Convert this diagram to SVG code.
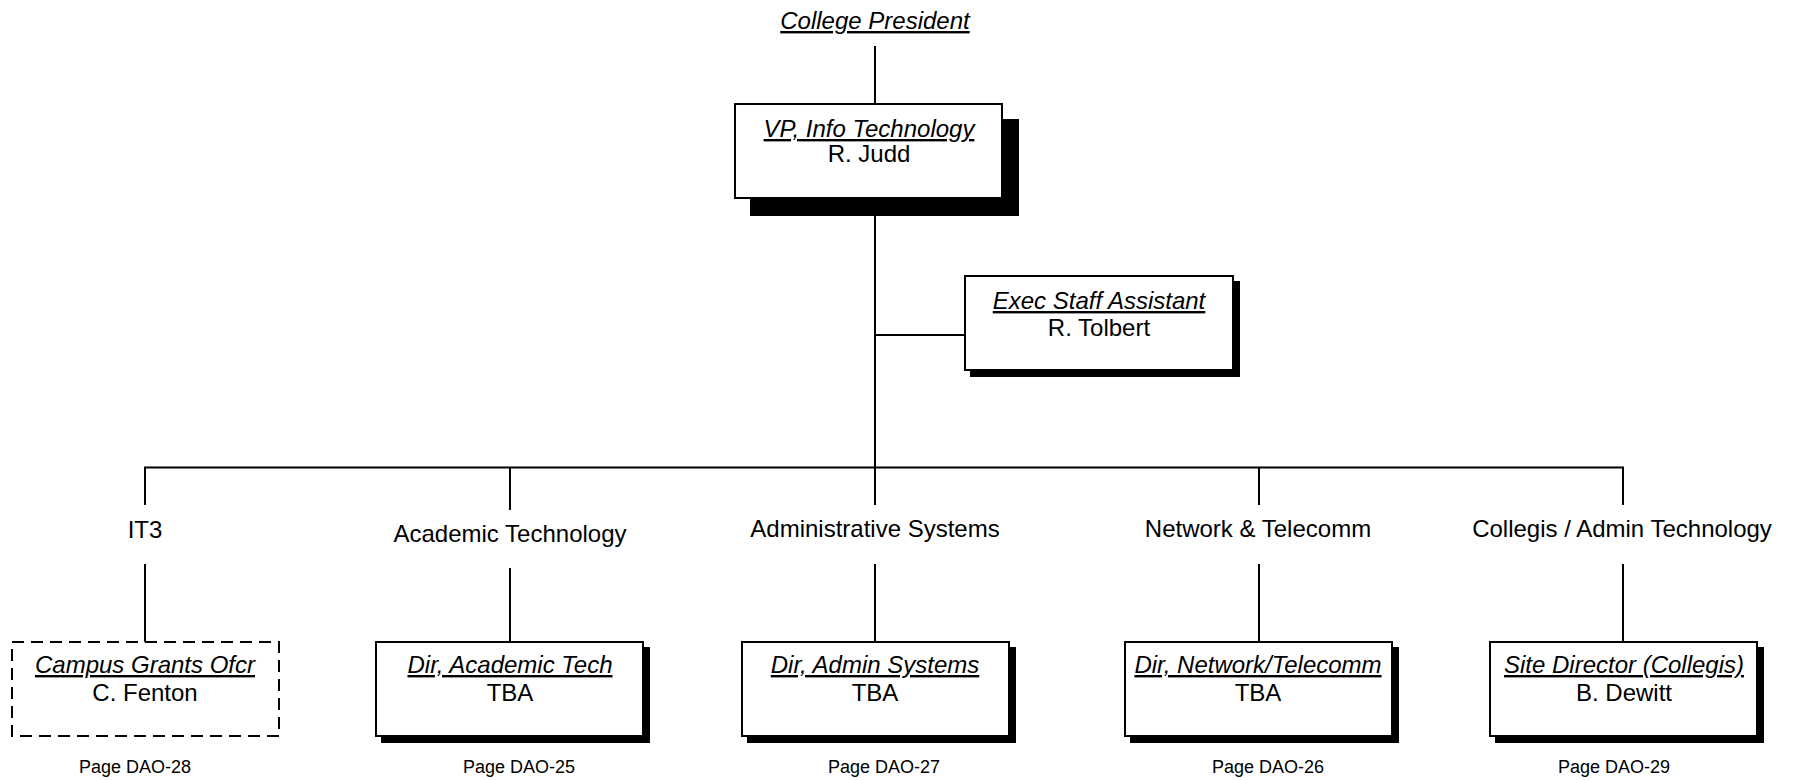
<svg xmlns="http://www.w3.org/2000/svg" width="1800" height="780" viewBox="0 0 1800 780">
<style>
text{font-family:"Liberation Sans",Arial,sans-serif;fill:#000;text-anchor:middle}
.t{font-size:24px;font-style:italic;text-decoration:underline;text-decoration-skip-ink:none}
.n{font-size:24px}
.lbl{font-size:24px}
.pg{font-size:18px}
.box{fill:#fff;stroke:#000;stroke-width:2}
.dash{fill:#fff;stroke:#000;stroke-width:2;stroke-dasharray:12 7}
.sh{fill:#000}
.c{stroke:#000;stroke-width:2;fill:none}
</style>
<rect width="1800" height="780" fill="#fff"/>
<g id="connectors">
<line class="c" x1="875" y1="46" x2="875" y2="104"/>
<line class="c" x1="875" y1="198" x2="875" y2="468"/>
<line class="c" x1="875" y1="335" x2="965" y2="335"/>
<line class="c" x1="144" y1="467.5" x2="1624" y2="467.5"/>
<line class="c" x1="145" y1="467" x2="145" y2="505"/>
<line class="c" x1="145" y1="564" x2="145" y2="642"/>
<line class="c" x1="510" y1="467" x2="510" y2="510"/>
<line class="c" x1="510" y1="568" x2="510" y2="642"/>
<line class="c" x1="875" y1="467" x2="875" y2="505"/>
<line class="c" x1="875" y1="564" x2="875" y2="642"/>
<line class="c" x1="1259" y1="467" x2="1259" y2="505"/>
<line class="c" x1="1259" y1="564" x2="1259" y2="642"/>
<line class="c" x1="1623" y1="467" x2="1623" y2="505"/>
<line class="c" x1="1623" y1="564" x2="1623" y2="642"/>
</g>
<g id="college-president">
<text class="t" x="875" y="29">College President</text>
</g>
<g id="vp">
<rect class="sh" x="750" y="119" width="269" height="97"/>
<rect class="box" x="735" y="104" width="267" height="94"/>
<text class="t" x="869" y="137">VP, Info Technology</text>
<text class="n" x="869" y="162">R. Judd</text>
</g>
<g id="exec">
<rect class="sh" x="970" y="281" width="270" height="96"/>
<rect class="box" x="965" y="276" width="268" height="94"/>
<text class="t" x="1099" y="309">Exec Staff Assistant</text>
<text class="n" x="1099" y="336">R. Tolbert</text>
</g>
<g id="it3">
<text class="lbl" x="145" y="538">IT3</text>
<rect class="dash" x="12" y="642" width="267" height="94"/>
<text class="t" x="145" y="673">Campus Grants Ofcr</text>
<text class="n" x="145" y="701">C. Fenton</text>
<text class="pg" x="135" y="773">Page DAO-28</text>
</g>
<g id="academic">
<text class="lbl" x="510" y="542">Academic Technology</text>
<rect class="sh" x="381" y="647" width="269" height="96"/>
<rect class="box" x="376" y="642" width="267" height="94"/>
<text class="t" x="510" y="673">Dir, Academic Tech</text>
<text class="n" x="510" y="701">TBA</text>
<text class="pg" x="519" y="773">Page DAO-25</text>
</g>
<g id="admin">
<text class="lbl" x="875" y="537">Administrative Systems</text>
<rect class="sh" x="747" y="647" width="269" height="96"/>
<rect class="box" x="742" y="642" width="267" height="94"/>
<text class="t" x="875" y="673">Dir, Admin Systems</text>
<text class="n" x="875" y="701">TBA</text>
<text class="pg" x="884" y="773">Page DAO-27</text>
</g>
<g id="network">
<text class="lbl" x="1258" y="537">Network &amp; Telecomm</text>
<rect class="sh" x="1130" y="647" width="269" height="96"/>
<rect class="box" x="1125" y="642" width="267" height="94"/>
<text class="t" x="1258" y="673">Dir, Network/Telecomm</text>
<text class="n" x="1258" y="701">TBA</text>
<text class="pg" x="1268" y="773">Page DAO-26</text>
</g>
<g id="collegis">
<text class="lbl" x="1622" y="537">Collegis / Admin Technology</text>
<rect class="sh" x="1495" y="647" width="269" height="96"/>
<rect class="box" x="1490" y="642" width="267" height="94"/>
<text class="t" x="1624" y="673">Site Director (Collegis)</text>
<text class="n" x="1624" y="701">B. Dewitt</text>
<text class="pg" x="1614" y="773">Page DAO-29</text>
</g>
</svg>
